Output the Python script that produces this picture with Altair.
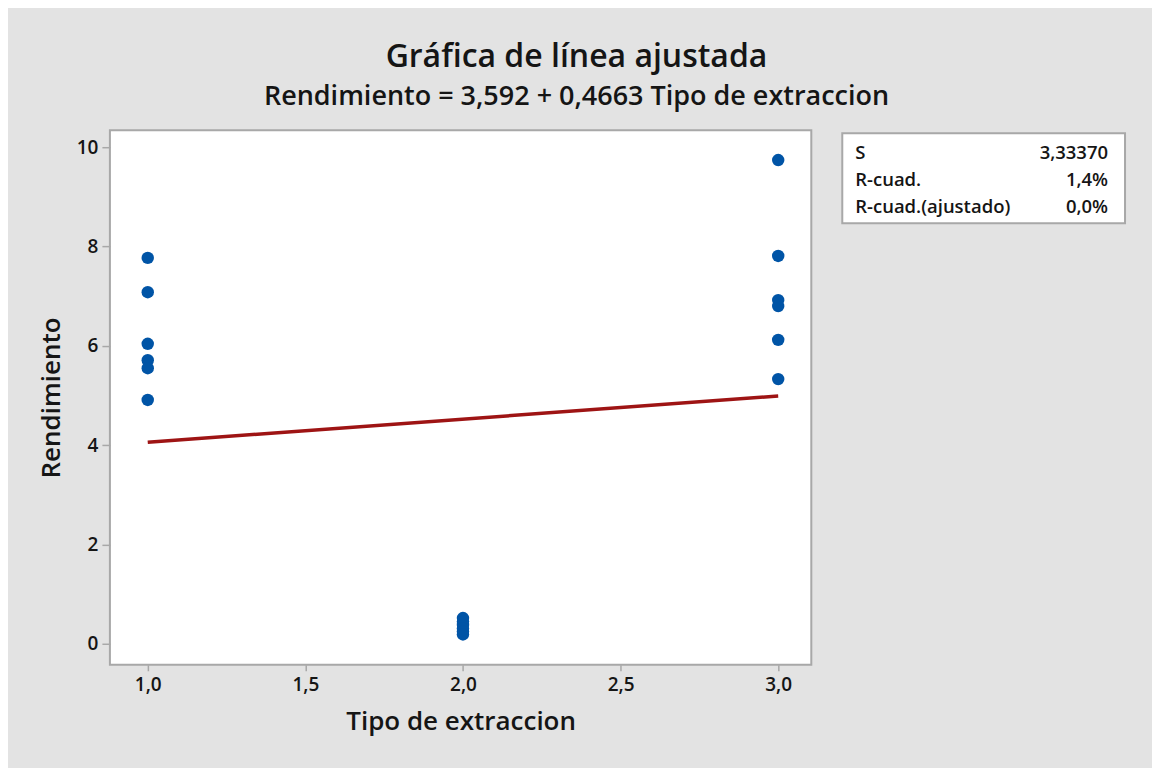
import altair as alt
import pandas as pd

# ---- data ----
tipo_1 = [7.77, 7.08, 6.04, 5.71, 5.55, 4.91]
tipo_2 = [0.52, 0.45, 0.38, 0.31, 0.25, 0.19]
tipo_3 = [9.74, 7.81, 6.92, 6.80, 6.12, 5.33]
intercept = 3.592
slope = 0.4663
fit_x = [1, 3]

x_ticks = [1.0, 1.5, 2.0, 2.5, 3.0]
y_ticks = [0, 2, 4, 6, 8, 10]

title_text = "Gráfica de línea ajustada"
subtitle_text = "Rendimiento = 3,592 + 0,4663 Tipo de extraccion"
stats_labels = ["S", "R-cuad.", "R-cuad.(ajustado)"]
stats_values = ["3,33370", "1,4%", "0,0%"]

FONT = "Open Sans"
BG = "#e3e3e3"
INK = "#151515"

pts = pd.DataFrame({
    "Tipo de extraccion": [1] * len(tipo_1) + [2] * len(tipo_2) + [3] * len(tipo_3),
    "Rendimiento": tipo_1 + tipo_2 + tipo_3,
})
fit = pd.DataFrame({
    "Tipo de extraccion": fit_x,
    "Rendimiento": [intercept + slope * v for v in fit_x],
})

xs = alt.Scale(domain=[0.88, 3.105], nice=False, zero=False)
ys = alt.Scale(domain=[-0.42, 10.34], nice=False, zero=False)

x_axis = alt.Axis(
    values=x_ticks, labelExpr="replace(format(datum.value, '.1f'), '.', ',')",
    title="Tipo de extraccion", grid=False, domain=False,
    tickColor="#a8a8a8", tickSize=6, tickWidth=1.5,
    labelFont=FONT, labelFontSize=19, labelFontWeight=600, labelColor=INK, labelPadding=5,
    titleFont=FONT, titleFontSize=26, titleFontWeight=600, titleColor=INK,
    titlePadding=14,
)
y_axis = alt.Axis(
    values=y_ticks, labelExpr="replace(format(datum.value, 'd'), '.', ',')",
    title="Rendimiento", grid=False, domain=False,
    tickColor="#a8a8a8", tickSize=8, tickWidth=1.5,
    labelFont=FONT, labelFontSize=19, labelFontWeight=600, labelColor=INK, labelPadding=4,
    titleFont=FONT, titleFontSize=26, titleFontWeight=600, titleColor=INK,
    titlePadding=12,
)

points = alt.Chart(pts).mark_circle(size=155, color="#0054a6", opacity=1).encode(
    x=alt.X("Tipo de extraccion:Q", scale=xs, axis=x_axis),
    y=alt.Y("Rendimiento:Q", scale=ys, axis=y_axis),
)
line = alt.Chart(fit).mark_line(color="#9e1414", strokeWidth=3.5).encode(
    x=alt.X("Tipo de extraccion:Q", scale=xs),
    y=alt.Y("Rendimiento:Q", scale=ys),
)

def label(txt, x, y, size, align="center", baseline="alphabetic"):
    return alt.Chart(pd.DataFrame({"t": [txt]})).mark_text(
        align=align, baseline=baseline, font=FONT, fontSize=size,
        fontWeight=600, color=INK, clip=False
    ).encode(text="t:N", x=alt.value(x), y=alt.value(y))

titles = [
    label(title_text, 467, -63, 32),
    label(subtitle_text, 467, -25, 27),
]

# stats box (annotation)
box = alt.Chart(pd.DataFrame({"a": [0]})).mark_rect(
    fill="white", stroke="#a8a8a8", strokeWidth=2, clip=False
).encode(x=alt.value(733), x2=alt.value(1016), y=alt.value(3), y2=alt.value(93))

stat_layers = []
row_y = [22.5, 50, 77]
for lab, val, yy in zip(stats_labels, stats_values, row_y):
    stat_layers.append(label(lab, 746, yy, 18.5, align="left", baseline="middle"))
    stat_layers.append(label(val, 999, yy, 18.5, align="right", baseline="middle"))

chart = alt.layer(points, line, box, *titles, *stat_layers).properties(
    width=702, height=535,
    padding={"left": 102, "top": 122, "right": 341, "bottom": 103},
    autosize=alt.AutoSizeParams(type="none"),
    background=BG,
).configure_view(fill="white", stroke="#a8a8a8", strokeWidth=2)

chart.save("out.html", embed_options={"renderer": "svg", "actions": False})
